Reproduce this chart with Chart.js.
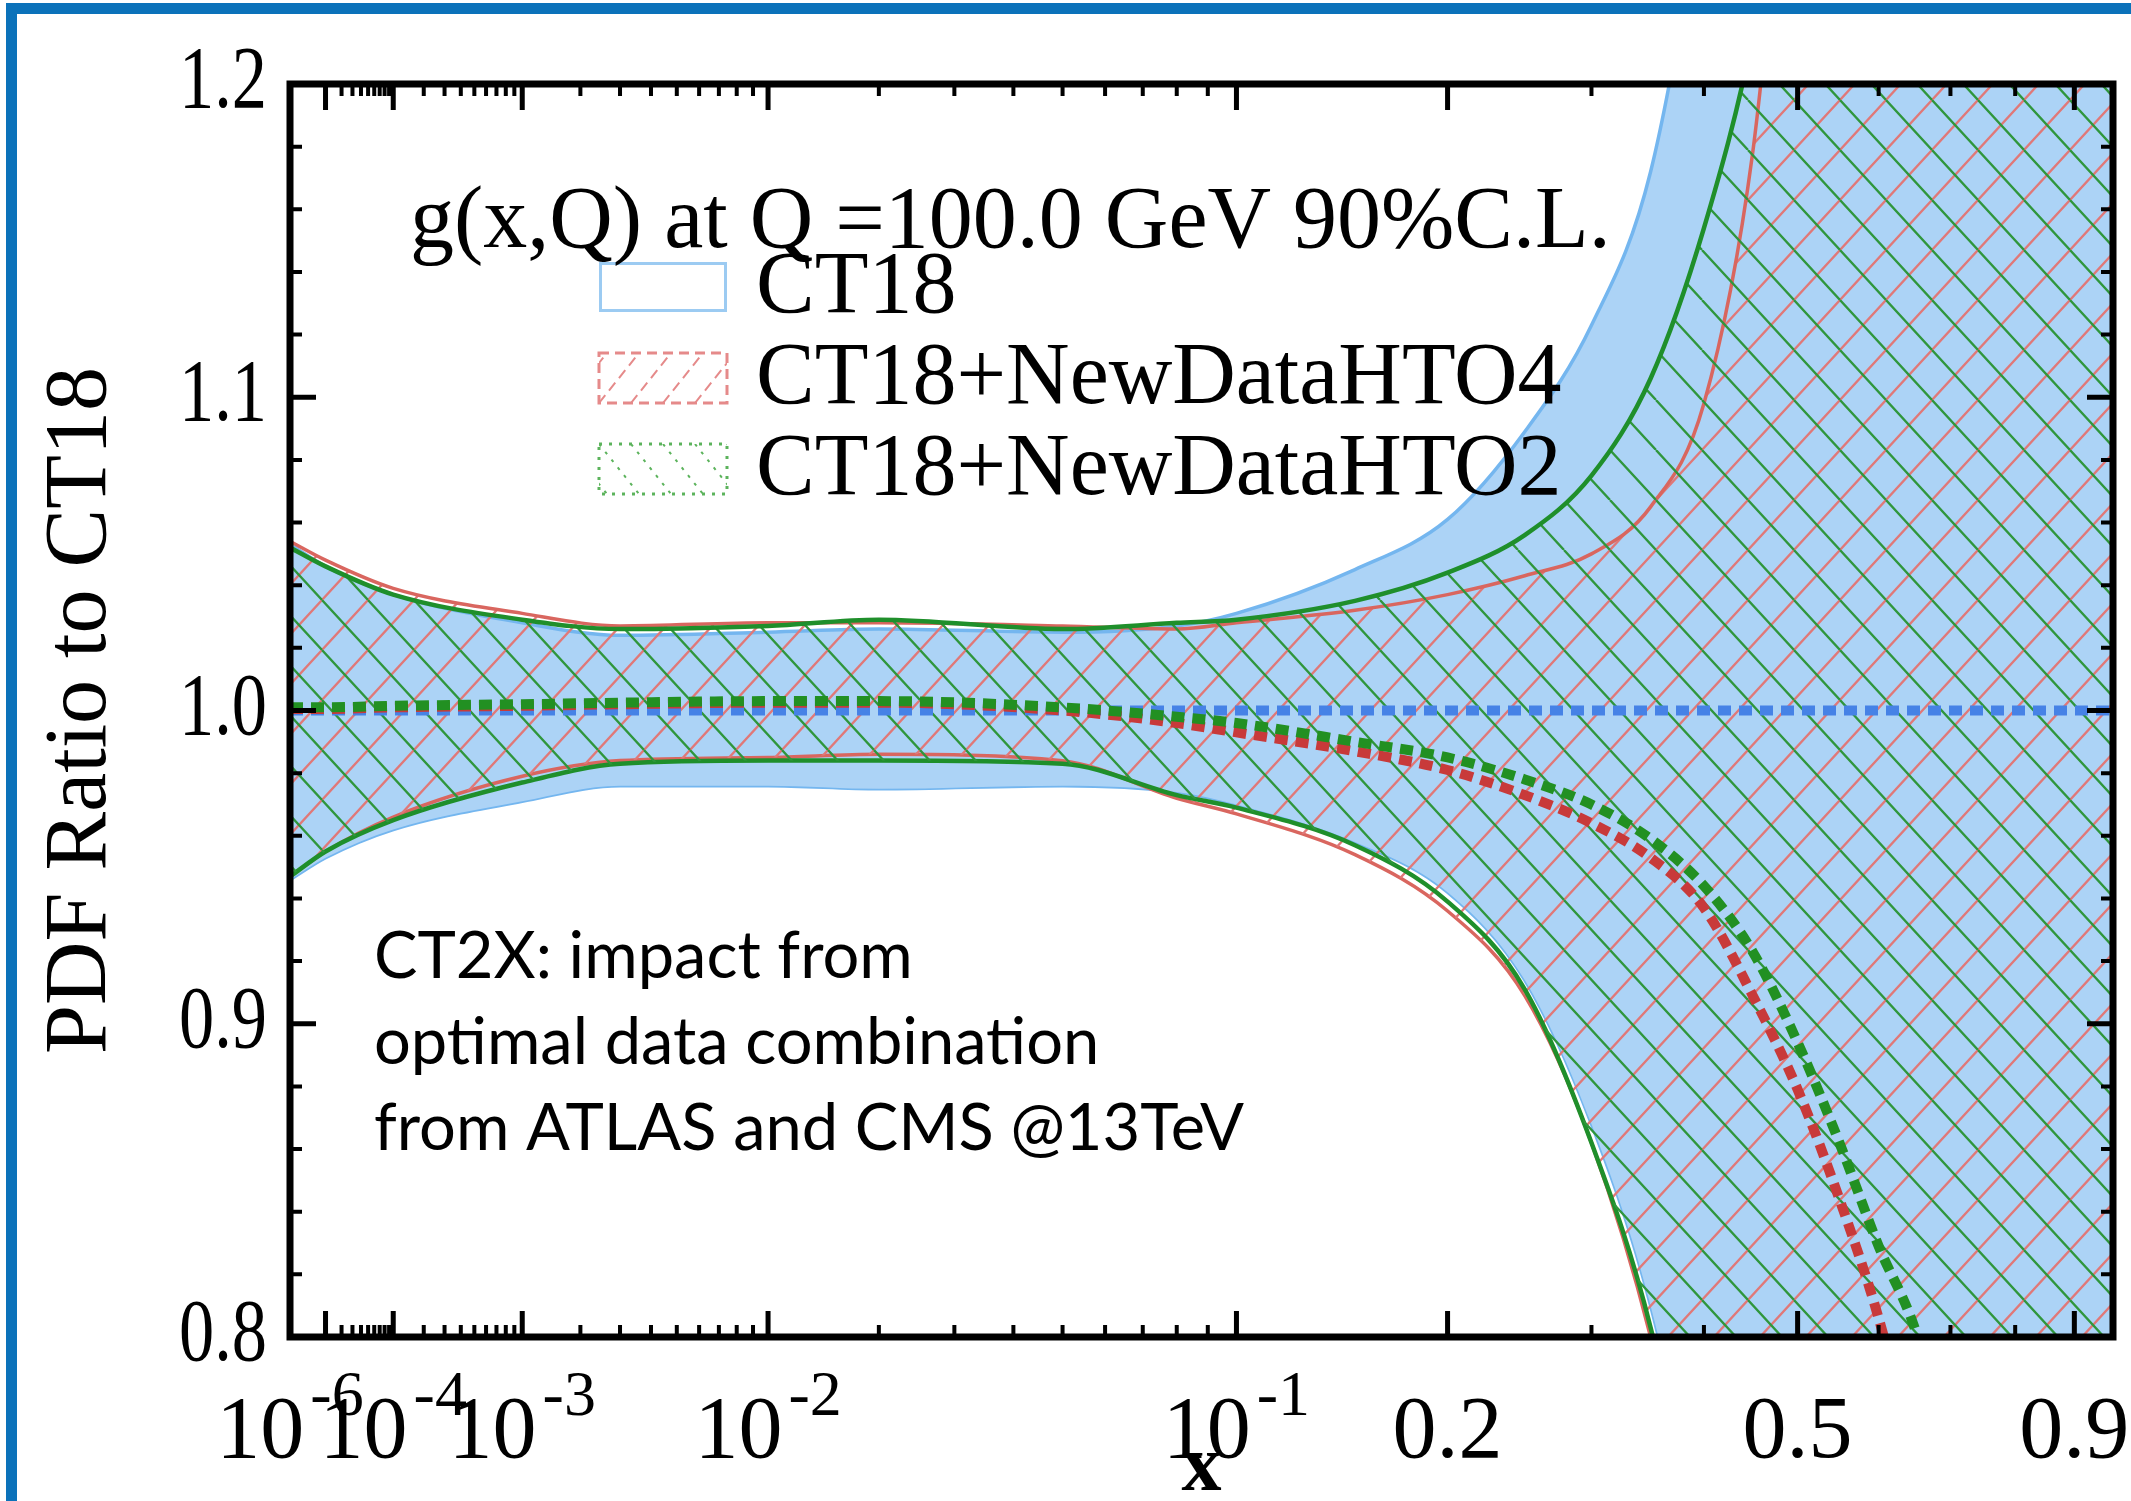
<!DOCTYPE html>
<html>
<head>
<meta charset="utf-8">
<title>g(x,Q) ratio to CT18</title>
<script src="https://cdn.jsdelivr.net/npm/chart.js@4.4.1/dist/chart.umd.min.js"></script>
<style>
  html, body { margin: 0; padding: 0; background: #fff; }
  #pdfChart { display: block; width: 2131px; height: 1501px; }
</style>
</head>
<body>
<canvas id="pdfChart" width="2131" height="1501"></canvas>
<script>
const xValues = [1e-6, 1e-5, 1e-4, 1e-3, 3e-3, 0.01, 0.02, 0.05, 0.08, 0.1, 0.15, 0.2, 0.25, 0.3, 0.35, 0.4, 0.45, 0.5, 0.55, 0.6, 0.65, 0.7, 0.8, 0.9, 0.97];

//! CT18 band and central value
const ct18Upper   = [1.053, 1.046, 1.037, 1.028, 1.024, 1.025, 1.026, 1.025, 1.027, 1.031, 1.045, 1.061, 1.089, 1.123, 1.172, 1.265, 1.38, 1.5, 1.6, 1.7, 1.8, 1.9, 2.0, 2.1, 2.2];
const ct18Lower   = [0.946, 0.953, 0.962, 0.971, 0.976, 0.976, 0.975, 0.976, 0.974, 0.970, 0.958, 0.942, 0.914, 0.868, 0.81, 0.73, 0.62, 0.5, 0.4, 0.3, 0.2, 0.1, 0.0, -0.1, -0.2];
const ct18Central = [1.0, 1.0, 1.0, 1.0, 1.0, 1.0, 1.0, 1.0, 1.0, 1.0, 1.0, 1.0, 1.0, 1.0, 1.0, 1.0, 1.0, 1.0, 1.0, 1.0, 1.0, 1.0, 1.0, 1.0, 1.0];

//! CT18+NewDataHTO4
const hto4Upper   = [1.054, 1.048, 1.039, 1.031, 1.027, 1.028, 1.028, 1.027, 1.026, 1.028, 1.032, 1.037, 1.043, 1.050, 1.065, 1.098, 1.178, 1.32, 1.45, 1.58, 1.7, 1.8, 1.9, 2.0, 2.1];
const hto4Lower   = [0.947, 0.955, 0.966, 0.979, 0.984, 0.985, 0.986, 0.984, 0.972, 0.967, 0.954, 0.936, 0.909, 0.862, 0.80, 0.72, 0.61, 0.5, 0.4, 0.3, 0.2, 0.1, 0.0, -0.1, -0.2];
const hto4Central = [1.0005, 1.0005, 1.001, 1.0015, 1.002, 1.0025, 1.0025, 1.000, 0.996, 0.993, 0.987, 0.981, 0.973, 0.964, 0.953, 0.937, 0.909, 0.879, 0.844, 0.806, 0.76, 0.71, 0.58, 0.45, 0.35];

//! CT18+NewDataHTO2
const hto2Upper   = [1.052, 1.046, 1.037, 1.029, 1.026, 1.027, 1.029, 1.026, 1.028, 1.029, 1.035, 1.044, 1.056, 1.075, 1.106, 1.154, 1.215, 1.30, 1.4, 1.5, 1.6, 1.7, 1.8, 1.9, 2.0];
const hto2Lower   = [0.947, 0.955, 0.965, 0.977, 0.983, 0.984, 0.984, 0.983, 0.973, 0.969, 0.957, 0.939, 0.911, 0.862, 0.803, 0.72, 0.61, 0.5, 0.4, 0.3, 0.2, 0.1, 0.0, -0.1, -0.2];
const hto2Central = [1.001, 1.001, 1.0015, 1.002, 1.0025, 1.003, 1.003, 1.001, 0.998, 0.996, 0.990, 0.985, 0.978, 0.970, 0.959, 0.944, 0.923, 0.894, 0.862, 0.829, 0.802, 0.76, 0.66, 0.53, 0.42];

//! axes
const xMajorTicks = [1e-5, 1e-4, 1e-3, 1e-2, 0.1, 0.2, 0.5, 0.9];
const xMinorTicks = [
  2e-5, 3e-5, 4e-5, 5e-5, 6e-5, 7e-5, 8e-5, 9e-5,
  2e-4, 3e-4, 4e-4, 5e-4, 6e-4, 7e-4, 8e-4, 9e-4,
  2e-3, 3e-3, 4e-3, 5e-3, 6e-3, 7e-3, 8e-3, 9e-3,
  0.02, 0.03, 0.04, 0.05, 0.06, 0.07, 0.08, 0.09,
  0.3, 0.4, 0.6, 0.7, 0.8
];
const xTickLabels = [
  { value: 1e-6, base: "10", exp: "-6" },
  { value: 1e-4, base: "10", exp: "-4" },
  { value: 1e-3, base: "10", exp: "-3" },
  { value: 1e-2, base: "10", exp: "-2" },
  { value: 0.1, base: "10", exp: "-1" },
  { value: 0.2, base: "0.2" },
  { value: 0.5, base: "0.5" },
  { value: 0.9, base: "0.9" }
];
const yMajorTicks = [0.8, 0.9, 1.0, 1.1, 1.2];
const yTickLabels = ["0.8", "0.9", "1.0", "1.1", "1.2"];
const yMinorTicks = [0.82, 0.84, 0.86, 0.88, 0.92, 0.94, 0.96, 0.98, 1.02, 1.04, 1.06, 1.08, 1.12, 1.14, 1.16, 1.18];

//! texts
const legendLabels = ["CT18", "CT18+NewDataHTO4", "CT18+NewDataHTO2"];
const plotTitle = "g(x,Q) at Q =100.0 GeV 90%C.L.";
const noteLines = ["CT2X: impact from", "optimal data combination", "from ATLAS and CMS @13TeV"];

const SERIF = '"Liberation Serif", "Times New Roman", serif';

//! x axis: power-law scale (u = x^0.28)
const powerExp = 0.28;
const tf = v => Math.pow(v, powerExp);
const itf = u => Math.pow(u, 1 / powerExp);

class PowerScale extends Chart.LinearScale {
    determineDataLimits() {
        this.min = this.options.min;
        this.max = this.options.max;
    }
    buildTicks() {
        return xMajorTicks.map(v => ({ value: v }));
    }
    getPixelForValue(value) {
        const t0 = tf(this.min), t1 = tf(this.max);
        return this.getPixelForDecimal((tf(value) - t0) / (t1 - t0));
    }
    getValueForPixel(pixel) {
        const t0 = tf(this.min), t1 = tf(this.max);
        return itf(t0 + this.getDecimalForPixel(pixel) * (t1 - t0));
    }
}
PowerScale.id = "power";
Chart.register(PowerScale);

const canvas = document.getElementById("pdfChart");
const ctx = canvas.getContext("2d");

function makeHatch(color, dir) {
    const w = 46, h = 50;
    const c = document.createElement("canvas");
    c.width = w; c.height = h;
    const g = c.getContext("2d");
    g.strokeStyle = color;
    g.lineWidth = 2.3;
    g.beginPath();
    for (const o of [-w, 0, w]) {
        if (dir === "/") { g.moveTo(o, h); g.lineTo(o + w, 0); }
        else { g.moveTo(o, 0); g.lineTo(o + w, h); }
    }
    g.stroke();
    return ctx.createPattern(c, "repeat");
}

const redHatch = makeHatch("#e07878", "/");
const greenHatch = makeHatch("#2f963c", "\\");

const pts = ys => xValues.map((x, i) => ({ x: x, y: ys[i] }));

function edge(label, ys, color, width, order, fill, bg) {
    return {
        label: label,
        data: pts(ys),
        borderColor: color,
        borderWidth: width,
        backgroundColor: bg || "transparent",
        fill: fill || false,
        pointRadius: 0,
        cubicInterpolationMode: "monotone",
        clip: 0,
        order: order
    };
}

function dotted(label, ys, color, order) {
    return {
        label: label,
        data: pts(ys),
        borderColor: color,
        borderWidth: 10,
        borderDash: [13, 8],
        borderCapStyle: "butt",
        fill: false,
        pointRadius: 0,
        cubicInterpolationMode: "monotone",
        clip: 0,
        order: order
    };
}

//! legend swatches, drawn by hand
function drawLegendBox(c, i, bx, by, bw, bh) {
    c.save();
    c.globalAlpha = 1;
    c.globalCompositeOperation = "source-over";
    c.setLineDash([]);
    c.fillStyle = "#ffffff";
    c.fillRect(bx, by, bw, bh);
    if (i === 0) {
        // plain light-blue outline: four thin strips
        c.fillStyle = "#9ccbf2";
        c.fillRect(bx, by, bw, 3);
        c.fillRect(bx, by + bh - 3, bw, 3);
        c.fillRect(bx, by, 3, bh);
        c.fillRect(bx + bw - 3, by, 3, bh);
    } else {
        c.lineWidth = 3;
        c.strokeStyle = i === 1 ? "#e58a8a" : "#5cb35c";
        c.setLineDash(i === 1 ? [10, 6] : [3, 7]);
        c.strokeRect(bx, by, bw, bh);
        c.beginPath();
        c.rect(bx, by, bw, bh);
        c.clip();
        c.lineWidth = 2;
        c.beginPath();
        for (let k = -2; k < 6; k++) {
            const x0 = bx + k * 32;
            if (i === 1) { c.moveTo(x0, by + bh); c.lineTo(x0 + 40, by); }
            else { c.moveTo(x0, by); c.lineTo(x0 + 40, by + bh); }
        }
        c.stroke();
    }
    c.restore();
}

const decorations = {
    id: "decorations",
    afterDatasetsDraw(chart) {
        const { ctx: c, chartArea: a, scales } = chart;
        const xs = scales.x, ys = scales.y;
        c.save();
        c.strokeStyle = "#000";
        c.lineCap = "butt";
        c.setLineDash([]);

        const xTick = (v, len, w) => {
            const px = xs.getPixelForValue(v);
            c.lineWidth = w;
            c.beginPath();
            c.moveTo(px, a.bottom); c.lineTo(px, a.bottom - len);
            c.moveTo(px, a.top); c.lineTo(px, a.top + len);
            c.stroke();
        };
        const yTick = (v, len, w) => {
            const py = ys.getPixelForValue(v);
            c.lineWidth = w;
            c.beginPath();
            c.moveTo(a.left, py); c.lineTo(a.left + len, py);
            c.moveTo(a.right, py); c.lineTo(a.right - len, py);
            c.stroke();
        };
        xMinorTicks.forEach(v => xTick(v, 12, 4));
        xMajorTicks.forEach(v => xTick(v, 26, 5));
        yMinorTicks.forEach(v => yTick(v, 12, 4));
        yMajorTicks.forEach(v => yTick(v, 26, 5));

        c.lineWidth = 7;
        c.strokeRect(a.left, a.top, a.right - a.left, a.bottom - a.top);

        c.fillStyle = "#000";

        //! y tick labels (condensed serif)
        c.font = "88px " + SERIF;
        c.textAlign = "right";
        c.textBaseline = "middle";
        yMajorTicks.forEach((v, i) => {
            const py = ys.getPixelForValue(v);
            c.save();
            c.translate(a.left - 23, py);
            c.scale(0.8, 1);
            c.fillText(yTickLabels[i], 0, 0);
            c.restore();
        });

        //! x tick labels with exponents
        const baseFont = "88px " + SERIF;
        const expFont = "64px " + SERIF;
        const gap = 6;
        const baseLine = a.bottom + 120;
        c.textAlign = "left";
        c.textBaseline = "alphabetic";
        xTickLabels.forEach(t => {
            const px = xs.getPixelForValue(t.value);
            c.font = baseFont;
            const wb = c.measureText(t.base).width;
            let we = 0;
            if (t.exp) { c.font = expFont; we = c.measureText(t.exp).width + gap; }
            const start = px - (wb + we) / 2;
            c.font = baseFont;
            c.fillText(t.base, start, baseLine);
            if (t.exp) {
                c.font = expFont;
                c.fillText(t.exp, start + wb + gap, baseLine - 42);
            }
        });
        c.restore();
    },
    afterDraw(chart) {
        const c = chart.ctx;
        c.save();
        c.setLineDash([]);
        c.textAlign = "left";
        c.textBaseline = "alphabetic";

        legendLabels.forEach((lab, i) => {
            const by = 262 + i * 91;
            drawLegendBox(c, i, 599, by, 128, 50);
            c.fillStyle = "#000";
            c.font = "88px " + SERIF;
            c.fillText(lab, 756, by + 50);
        });

        c.fillStyle = "#000";
        c.font = "88px " + SERIF;
        c.fillText(plotTitle, 410, 247);

        c.font = '65px Lato, "Open Sans", sans-serif';
        noteLines.forEach((line, i) => c.fillText(line, 374, 978 + i * 86));

        //! blue frame around the picture
        c.fillStyle = "#0b72ba";
        c.fillRect(6, 3, chart.width - 6, 11);
        c.fillRect(6, 3, 11, chart.height - 3);
        c.restore();
    }
};

new Chart(ctx, {
    type: "line",
    data: {
        datasets: [
            edge("CT18 lower", ct18Lower, "#74b6ef", 3.5, 20),
            edge(legendLabels[0], ct18Upper, "#74b6ef", 3.5, 19, "-1", "#acd3f6"),
            edge("HTO4 lower", hto4Lower, "#d9665f", 3.5, 18),
            edge(legendLabels[1], hto4Upper, "#d9665f", 3.5, 17, "-1", redHatch),
            edge("HTO2 lower", hto2Lower, "#1f8f2b", 4.5, 16),
            edge(legendLabels[2], hto2Upper, "#1f8f2b", 4.5, 15, "-1", greenHatch),
            dotted("CT18 central", ct18Central, "#4682e6", 3),
            dotted("HTO4 central", hto4Central, "#c83a3a", 2),
            dotted("HTO2 central", hto2Central, "#229022", 1)
        ]
    },
    options: {
        responsive: false,
        animation: false,
        devicePixelRatio: 1,
        layout: { padding: { left: 0, right: 18, top: 84, bottom: 0 } },
        plugins: {
            legend: { display: false },
            tooltip: { enabled: false }
        },
        scales: {
            x: {
                type: "power",
                min: 1e-6,
                max: 0.97,
                grid: { display: false },
                border: { display: false },
                ticks: { display: false, callback: () => "" },
                title: {
                    display: true,
                    text: "x",
                    color: "#000",
                    font: { family: SERIF, size: 80, weight: "bold", lineHeight: 0.78 },
                    padding: 0
                },
                afterFit: s => { s.height = 164; }
            },
            y: {
                type: "linear",
                min: 0.8,
                max: 1.2,
                grid: { display: false },
                border: { display: false },
                ticks: { display: false, stepSize: 0.1 },
                title: {
                    display: true,
                    text: "PDF Ratio to CT18",
                    color: "#000",
                    font: { family: SERIF, size: 88 },
                    padding: { top: 29, bottom: 0 }
                },
                afterFit: s => { s.width = 290; }
            }
        }
    },
    plugins: [decorations]
});
</script>
</body>
</html>
